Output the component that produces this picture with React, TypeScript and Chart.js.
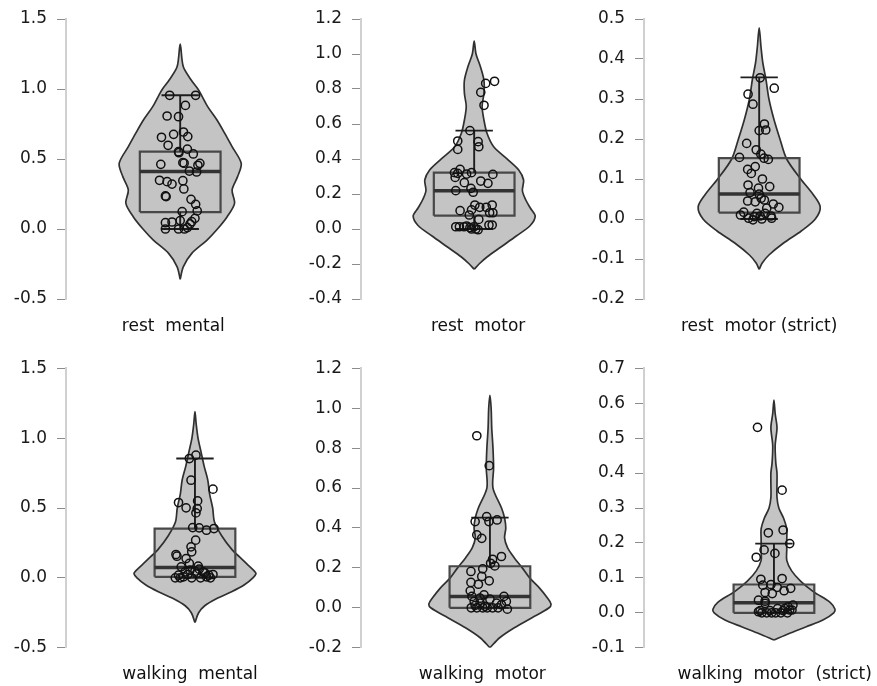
import React, { useEffect, useRef } from 'react';
import { Chart, registerables } from 'chart.js';

Chart.register(...registerables);

// ---------------- data ----------------
// Box statistics: [lower whisker, Q1, median, Q3, upper whisker]
// Violin: density levels (value axis) and relative density (0..1)
// Points: values and horizontal jitter (hundredths of an x unit)

const restMentalBox = [0, 0.121, 0.41, 0.552, 0.955];
const restMentalLevels = [-0.36, -0.27, -0.174, -0.079, 0, 0.088, 0.183, 0.279, 0.374, 0.469, 0.588, 0.683, 0.78, 0.874, 0.955, 1.0, 1.064, 1.16, 1.32];
const restMentalDensity = [0, 0.05, 0.19, 0.44, 0.61, 0.77, 0.89, 0.85, 0.94, 1, 0.85, 0.73, 0.6, 0.45, 0.35, 0.29, 0.18, 0.05, 0];
const restMentalValues = [0.955, 0.955, 0.883, 0.807, 0.802, 0.676, 0.693, 0.655, 0.66, 0.598, 0.552, 0.571, 0.545, 0.536, 0.462, 0.474, 0.47, 0.455, 0.469, 0.414, 0.407, 0.348, 0.338, 0.321, 0.345, 0.286, 0.236, 0.231, 0.212, 0.176, 0.129, 0.124, 0.076, 0.045, 0.05, 0.06, 0.036, 0.0, 0.0, 0.0, 0.01, 0.052];
const restMentalJitter = [-10.7, 15.7, 5.3, -13.3, -1.7, -6.7, 3.3, -19, 7.7, -12.3, -1.7, 7.3, -1.3, 13.3, -19.7, 2.7, 4, 18, 20, 9.3, 16.7, -21, -13.3, -8.3, 2.7, 3.7, -15, -14.3, 11, 15.7, 17.3, 2, 15, -15, -8.3, 0, 10, -15, -1.7, 4.3, 7.3, 11.7];

const restMotorBox = [0, 0.076, 0.219, 0.322, 0.562];
const restMotorLevels = [-0.23, -0.2, -0.16, -0.1, -0.04, 0.02, 0.074, 0.12, 0.17, 0.22, 0.28, 0.337, 0.394, 0.47, 0.547, 0.623, 0.7, 0.775, 0.85, 0.93, 1.0, 1.074];
const restMotorDensity = [0, 0.08, 0.21, 0.45, 0.69, 0.92, 1, 0.92, 0.84, 0.79, 0.81, 0.73, 0.56, 0.32, 0.21, 0.16, 0.13, 0.16, 0.16, 0.1, 0.03, 0];
const restMotorValues = [0.844, 0.832, 0.781, 0.707, 0.562, 0.503, 0.499, 0.47, 0.455, 0.341, 0.322, 0.318, 0.314, 0.322, 0.295, 0.312, 0.265, 0.274, 0.261, 0.232, 0.21, 0.219, 0.105, 0.137, 0.124, 0.124, 0.137, 0.109, 0.08, 0.093, 0.093, 0.055, 0.013, 0.013, 0.013, 0.008, 0.013, 0.0, -0.004, 0.023, 0.023, 0.0, 0.017];
const restMotorJitter = [20.7, 11.7, 6.7, 10, -4.3, -16.7, 4, 4.7, -16.7, -14.3, -20, -16.7, -7.7, -2.7, -19.3, 19, -10, 6.7, 14, -3.3, -1, -18.7, -14.3, 0.7, 5.7, 12.3, 18.3, -2.7, -5, 15.7, 19, 4.7, -18.7, -15, -10.3, -4.3, -0.3, 1.7, 4, 15, 18.3, -2.7, -7.7];

const restStrictBox = [0, 0.016, 0.0625, 0.152, 0.354];
const restStrictLevels = [-0.126, -0.11, -0.09, -0.06, -0.03, 0, 0.03, 0.06, 0.1, 0.15, 0.2, 0.25, 0.3, 0.35, 0.39, 0.43, 0.478];
const restStrictDensity = [0, 0.05, 0.16, 0.4, 0.69, 0.92, 1, 0.89, 0.68, 0.45, 0.34, 0.24, 0.16, 0.11, 0.06, 0.03, 0];
const restStrictValues = [0.353, 0.327, 0.312, 0.287, 0.2375, 0.2225, 0.221, 0.189, 0.173, 0.162, 0.152, 0.149, 0.154, 0.124, 0.131, 0.114, 0.1, 0.085, 0.081, 0.077, 0.066, 0.062, 0.052, 0.045, 0.043, 0.0475, 0.027, 0.0375, 0.029, 0.017, 0.01, 0.002, -0.002, 0.014, 0.0075, 0, 0.0075, 0.002, 0.014, 0.006];
const restStrictJitter = [1, 15.3, -11.3, -6.3, 5.3, 6.7, 0, -12.7, -3, 1.7, 5, 9.3, -20, -11.7, -4, -8, 3.3, -11.3, 10.7, -0.7, -9.3, 0, 2, -11.7, -4, 5.3, 7.7, 14.3, 20, -15.7, -19, -10.7, -6.3, -2.3, 1, 2.7, 12, 12.7, 6, -5];

const walkMentalBox = [0, 0.007, 0.074, 0.353, 0.854];
const walkMentalLevels = [-0.32, -0.25, -0.2, -0.15, -0.1, -0.05, 0, 0.03, 0.05, 0.1, 0.15, 0.2, 0.3, 0.4, 0.5, 0.6, 0.7, 0.8, 0.9, 1.0, 1.1, 1.19];
const walkMentalDensity = [0, 0.06, 0.16, 0.35, 0.6, 0.81, 0.95, 1, 0.97, 0.85, 0.73, 0.61, 0.44, 0.32, 0.29, 0.24, 0.21, 0.15, 0.1, 0.05, 0.02, 0];
const walkMentalValues = [0.878, 0.854, 0.699, 0.635, 0.539, 0.501, 0.551, 0.496, 0.465, 0.36, 0.358, 0.341, 0.353, 0.27, 0.222, 0.186, 0.167, 0.155, 0.138, 0.103, 0.079, 0.084, 0.055, 0.019, 0, 0.007, 0.024, 0, 0.031, 0, 0.043, 0.019, 0.024, 0, 0, 0.048, 0.062, 0.007, 0.043, 0.036];
const walkMentalJitter = [1, -5.7, -4, 18.3, -16.7, -9, 2.7, 2.3, 1, -2.3, 4.3, 11.7, 19.3, 0.7, -4, -3.3, -19.3, -18.3, -9, -5.7, -14, 3.3, -5, -16.7, -20, -11.7, -7.3, -3.3, 1.7, 5.7, 8.3, 14, 18.3, 15.7, -15, 0, 4.3, 11.7, -10, 10];

const walkMotorBox = [0, 0.0, 0.057, 0.208, 0.452];
const walkMotorLevels = [-0.2, -0.15, -0.1, -0.05, 0, 0.02, 0.05, 0.1, 0.15, 0.2, 0.25, 0.3, 0.35, 0.4, 0.45, 0.5, 0.6, 0.7, 0.8, 0.9, 1.0, 1.065];
const walkMotorDensity = [0, 0.16, 0.4, 0.69, 0.97, 1, 0.94, 0.81, 0.65, 0.53, 0.4, 0.29, 0.24, 0.26, 0.24, 0.19, 0.05, 0.06, 0.05, 0.03, 0.02, 0];
const walkMotorValues = [0.862, 0.712, 0.457, 0.432, 0.432, 0.44, 0.365, 0.348, 0.257, 0.243, 0.223, 0.21, 0.195, 0.182, 0.127, 0.118, 0.135, 0.157, 0.085, 0.057, 0.065, 0.057, 0.032, 0.023, 0.043, 0.023, 0.032, 0, 0, 0, 0, 0, 0, -0.007, 0.007, 0.048, 0.015, 0.012];
const walkMotorJitter = [-13.3, -0.7, -3.3, -15, -1, 7.3, -13.3, -8.3, 11.7, 2.7, 0.7, 5, -7.3, -19.3, -19.3, -11.7, -0.7, -8.3, -20, -18.3, -6, 14.3, -16, -10, 0, 6.7, 16.7, -19, -13.3, -7.3, -2.7, 2.7, 8.3, 17.7, -5, -10, 11.7, -15];

const walkStrictBox = [0, 0.0, 0.029, 0.081, 0.198];
const walkStrictLevels = [-0.078, -0.06, -0.04, -0.02, 0, 0.01, 0.03, 0.06, 0.09, 0.12, 0.15, 0.18, 0.21, 0.24, 0.27, 0.3, 0.33, 0.37, 0.4, 0.43, 0.48, 0.53, 0.57, 0.609];
const walkStrictDensity = [0, 0.24, 0.53, 0.81, 0.98, 1, 0.92, 0.65, 0.44, 0.29, 0.21, 0.21, 0.21, 0.21, 0.16, 0.08, 0.05, 0.05, 0.05, 0.03, 0.02, 0.05, 0.02, 0];
const walkStrictValues = [0.531, 0.351, 0.237, 0.229, 0.198, 0.18, 0.159, 0.17, 0.096, 0.098, 0.079, 0.081, 0.073, 0.07, 0.058, 0.055, 0.063, 0.036, 0.033, 0.027, 0.022, 0.017, 0.012, 0.008, 0.012, 0.003, 0, 0, 0, 0, 0, 0, 0.008, 0.006, 0.006, 0.006];
const walkStrictJitter = [-16.7, 8.3, 9.3, -5.7, 16, -10, -18, 1, -13.3, 8.3, -11.3, -3, 3.3, 17, -9, -1.7, 10.3, -15.7, -9, -9, 19.3, 14.3, 11, 16, 3.7, -15.7, -12.3, -7.3, -2.3, 1.7, 7, 13.7, 18.3, -14, -4, 9.3];

const categoryLabels = ['rest  mental', 'rest  motor', 'rest  motor (strict)', 'walking  mental', 'walking  motor', 'walking  motor  (strict)'];

// ---------------- styles / layout ----------------
const FONT = "'DejaVu Sans', sans-serif";
const FONT_SIZE = 17;
const GREY = '#c4c4c4';
const PX_PER_UNIT = 100;
const VIOLIN_HALF = 0.62;
const BOX_HALF = 0.41;
const CAP_HALF = 0.19;
const PAD_RIGHT = 2;

interface Panel {
  name: string;
  box: number[];
  levels: number[];
  dens: number[];
  values: number[];
  jitter: number[];
  yMin: number; yMax: number; step: number;
  left: number; top: number; w: number; h: number;
  yW: number; padTop: number; xH: number;
  violinOffset: number; labelOffset: number;
}

const panels: Panel[] = [
  { name: categoryLabels[0], box: restMentalBox, levels: restMentalLevels, dens: restMentalDensity, values: restMentalValues, jitter: restMentalJitter,
    yMin: -0.5, yMax: 1.5, step: 0.5, left: 0, top: 0, w: 300, h: 345, yW: 66, padTop: 19, xH: 46, violinOffset: 116, labelOffset: -0.07 },
  { name: categoryLabels[1], box: restMotorBox, levels: restMotorLevels, dens: restMotorDensity, values: restMotorValues, jitter: restMotorJitter,
    yMin: -0.4, yMax: 1.2, step: 0.2, left: 300, top: 0, w: 290, h: 345, yW: 61, padTop: 19, xH: 46, violinOffset: 115, labelOffset: 0.04 },
  { name: categoryLabels[2], box: restStrictBox, levels: restStrictLevels, dens: restStrictDensity, values: restStrictValues, jitter: restStrictJitter,
    yMin: -0.2, yMax: 0.5, step: 0.1, left: 590, top: 0, w: 287, h: 345, yW: 54, padTop: 19, xH: 46, violinOffset: 117, labelOffset: 0 },
  { name: categoryLabels[3], box: walkMentalBox, levels: walkMentalLevels, dens: walkMentalDensity, values: walkMentalValues, jitter: walkMentalJitter,
    yMin: -0.5, yMax: 1.5, step: 0.5, left: 0, top: 345, w: 300, h: 341, yW: 66, padTop: 23.3, xH: 38.3, violinOffset: 131, labelOffset: -0.05 },
  { name: categoryLabels[4], box: walkMotorBox, levels: walkMotorLevels, dens: walkMotorDensity, values: walkMotorValues, jitter: walkMotorJitter,
    yMin: -0.2, yMax: 1.2, step: 0.2, left: 300, top: 345, w: 290, h: 341, yW: 61, padTop: 23.3, xH: 38.3, violinOffset: 131, labelOffset: -0.077 },
  { name: categoryLabels[5], box: walkStrictBox, levels: walkStrictLevels, dens: walkStrictDensity, values: walkStrictValues, jitter: walkStrictJitter,
    yMin: -0.1, yMax: 0.7, step: 0.1, left: 590, top: 345, w: 287, h: 341, yW: 54, padTop: 23.3, xH: 38.3, violinOffset: 132, labelOffset: 0.008 },
];

function violinOutline(levels: number[], dens: number[]) {
  const right = levels.map((y, i) => ({ x: dens[i] * VIOLIN_HALF, y }));
  const left: { x: number; y: number }[] = [];
  for (let i = levels.length - 2; i >= 0; i--) left.push({ x: -dens[i] * VIOLIN_HALF, y: levels[i] });
  return right.concat(left);
}

function fmt(v: number) {
  if (Math.abs(v) < 1e-9) return '0.0';
  return Number(v).toFixed(1);
}

function PanelChart({ p }: { p: Panel }) {
  const ref = useRef<HTMLCanvasElement | null>(null);
  useEffect(() => {
    if (!ref.current) return;
    const [lw, q1, med, q3, uw] = p.box;
    const area = p.w - p.yW - PAD_RIGHT;
    const xmin = -p.violinOffset / PX_PER_UNIT;
    const xmax = (area - p.violinOffset) / PX_PER_UNIT;
    const outline = violinOutline(p.levels, p.dens);
    const boxPts = [
      { x: -BOX_HALF, y: q1 }, { x: BOX_HALF, y: q1 }, { x: BOX_HALF, y: q3 }, { x: -BOX_HALF, y: q3 }, { x: -BOX_HALF, y: q1 },
    ];
    const whiskers = [
      { x: 0, y: q3 }, { x: 0, y: uw }, { x: 0, y: null },
      { x: -CAP_HALF, y: uw }, { x: CAP_HALF, y: uw }, { x: 0, y: null },
      { x: 0, y: q1 }, { x: 0, y: lw }, { x: 0, y: null },
      { x: -CAP_HALF, y: lw }, { x: CAP_HALF, y: lw },
    ];
    const points = p.values.map((y, i) => ({ x: p.jitter[i] / PX_PER_UNIT, y }));
    const lineBase = { showLine: true, fill: false, pointRadius: 0, pointHoverRadius: 0, spanGaps: false };
    const chart = new Chart(ref.current, {
      type: 'scatter',
      data: {
        datasets: [
          { ...lineBase, data: outline, fill: 'shape', backgroundColor: GREY, borderColor: 'rgba(0,0,0,0)', borderWidth: 0, tension: 0.3, order: 6 },
          { ...lineBase, data: boxPts, fill: 'shape', backgroundColor: GREY, borderColor: 'rgba(0,0,0,0)', borderWidth: 0, tension: 0, order: 5 },
          { ...lineBase, data: outline, borderColor: '#303030', borderWidth: 1.7, tension: 0.3, order: 4 },
          { ...lineBase, data: boxPts, borderColor: '#484848', borderWidth: 2.2, tension: 0, order: 3 },
          { ...lineBase, data: [{ x: -BOX_HALF, y: med }, { x: BOX_HALF, y: med }], borderColor: '#333333', borderWidth: 3.5, tension: 0, order: 2 },
          { ...lineBase, data: whiskers, borderColor: '#1e1e1e', borderWidth: 1.9, tension: 0, order: 1 },
          { data: points, showLine: false, pointRadius: 4.1, pointHoverRadius: 4.1, pointBorderWidth: 1.5,
            pointBackgroundColor: 'rgba(0,0,0,0)', backgroundColor: 'rgba(0,0,0,0)', pointBorderColor: '#111111', borderColor: '#111111', order: 0 },
        ] as any,
      },
      options: {
        animation: false,
        responsive: false,
        events: [],
        layout: { padding: { left: 0, right: PAD_RIGHT, top: p.padTop, bottom: 0 } },
        plugins: { legend: { display: false }, tooltip: { enabled: false } },
        scales: {
          x: {
            type: 'linear', min: xmin, max: xmax,
            grid: { display: false, drawTicks: false },
            border: { display: false },
            ticks: {
              autoSkip: false, maxRotation: 0, minRotation: 0, padding: 17, color: '#111111',
              font: { family: FONT, size: FONT_SIZE },
              callback: () => p.name,
            },
            afterBuildTicks: (s: any) => { s.ticks = [{ value: p.labelOffset }]; },
            afterFit: (s: any) => { s.height = p.xH; s.paddingLeft = 0; s.paddingRight = 0; },
          },
          y: {
            type: 'linear', min: p.yMin, max: p.yMax,
            ticks: {
              stepSize: p.step, padding: 10, color: '#1a1a1a',
              font: { family: FONT, size: FONT_SIZE },
              callback: (v: any) => fmt(Number(v)),
            },
            grid: { drawOnChartArea: false, drawTicks: true, tickLength: 9, color: '#8c8c8c', lineWidth: 1 },
            border: { display: true, color: '#d0d0d0', width: 2 },
            afterFit: (s: any) => { s.width = p.yW; s.paddingTop = 0; s.paddingBottom = 0; },
          },
        },
      } as any,
    });
    return () => chart.destroy();
  }, [p]);
  return (
    <canvas
      ref={ref}
      width={p.w}
      height={p.h}
      style={{ position: 'absolute', left: p.left, top: p.top, width: p.w, height: p.h }}
    />
  );
}

export default function App() {
  return (
    <div style={{ position: 'absolute', left: 0, top: 0, width: 877, height: 686, background: '#ffffff', overflow: 'hidden' }}>
      {panels.map((p) => (
        <PanelChart key={p.name} p={p} />
      ))}
    </div>
  );
}
